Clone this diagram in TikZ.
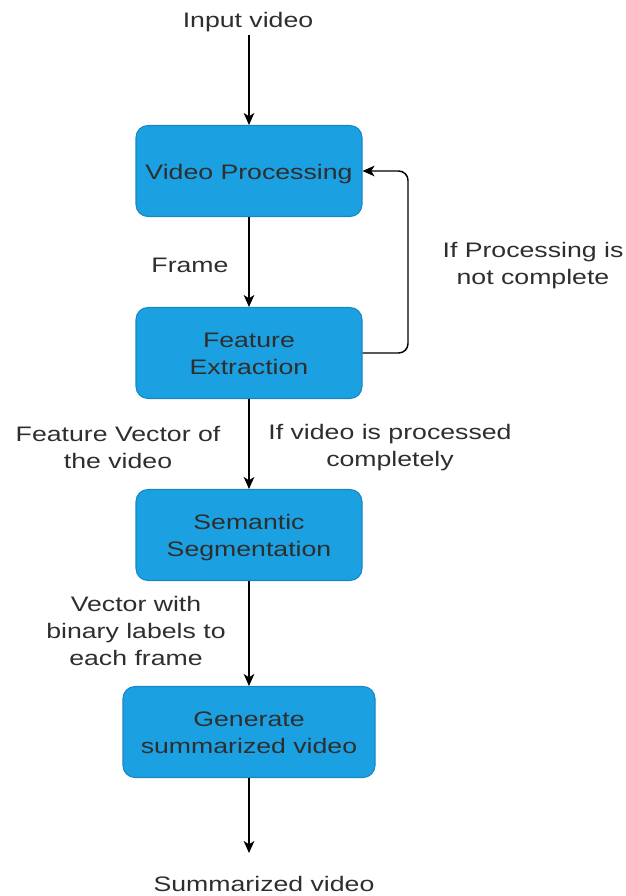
\documentclass[tikz,border=0pt]{standalone}
\usepackage{fontspec}
\setmainfont{Liberation Sans}[FakeStretch=1.27]
\usetikzlibrary{arrows.meta}
\definecolor{boxfill}{HTML}{1BA1E2}
\definecolor{boxline}{HTML}{1787C4}
\definecolor{txt}{HTML}{2E2E2E}
\newcommand\boxtext[1]{\raisebox{-2.25pt}[\height][\depth]{\begin{tabular}{@{}c@{}}#1\end{tabular}}}
\begin{document}
\begin{tikzpicture}[x=0.75pt,y=-0.75pt,
  every node/.style={font=\fontsize{15.75}{20.25}\selectfont, text=txt, align=center, inner sep=0pt},
  procbox/.style={draw=boxline, line width=0.8pt, fill=boxfill, rounded corners=9pt, minimum width=169.5pt, minimum height=68.25pt},
  widebox/.style={procbox, minimum width=189pt},
  conn/.style={draw=black, line width=1.1pt, -{Stealth[length=9pt,width=8pt,inset=2.5pt]}},
  lbl/.style={}]
\useasboundingbox (0,0) rectangle (625,896);
\node (in) at (248,22.5) {Input video};
\node[procbox] (vp) at (249,171) {\boxtext{Video Processing}};
\node[procbox] (fe) at (249,353) {\boxtext{Feature\\Extraction}};
\node[procbox] (ss) at (249,535) {\boxtext{Semantic\\Segmentation}};
\node[widebox] (gs) at (249,732) {\boxtext{Generate\\summarized video}};
\node (out) at (264,884) {Summarized video};
\coordinate (inend) at (249,35);
\coordinate (outend) at (249,853);

\draw[conn] (inend) -- (vp.north);
\draw[conn] (vp.south) -- (fe.north);
\draw[conn] (fe.south) -- (ss.north);
\draw[conn] (ss.south) -- (gs.north);
\draw[conn] (gs.south) -- (outend);
\draw[conn, rounded corners=7pt] (fe.east) -- (408,353) -- (408,171) -- (vp.east);

\node[lbl] (lframe) at (190,265.5) {Frame};
\node[lbl] (lnot) at (533,265.5) {If Processing is\\not complete};
\node[lbl] (lfv) at (118,447.5) {Feature Vector of\\the video};
\node[lbl] (ldone) at (390,447.5) {If video is processed\\completely};
\node[lbl] (lvec) at (136,630.5) {Vector with\\binary labels to\\each frame};
\end{tikzpicture}
\end{document}
